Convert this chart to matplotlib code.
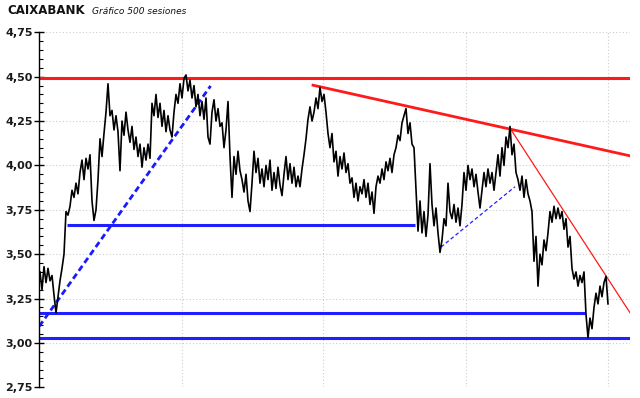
import matplotlib
matplotlib.use("Agg")
import matplotlib.pyplot as plt
import numpy as np
from matplotlib.ticker import FixedLocator, MultipleLocator, FuncFormatter

# ---- data: closing prices (one value per step along the 500-session window) ----
prices = [
    3.40, 3.30, 3.43, 3.34, 3.42, 3.35, 3.38, 3.27, 3.17,
    3.26, 3.35, 3.42, 3.50, 3.74, 3.72, 3.77,
    3.86, 3.82, 3.90, 3.84, 3.96, 4.03, 3.92, 4.04, 3.98, 4.06, 3.80, 3.69, 3.75, 3.92,
    4.15, 4.05, 4.18, 4.30, 4.46, 4.28, 4.31, 4.20, 4.28, 4.19, 3.97, 4.25, 4.17, 4.30, 4.20,
    4.13, 4.22, 4.09, 4.16, 4.05, 4.12, 3.99, 4.10, 4.03, 4.12,
    4.04, 4.35, 4.28, 4.40, 4.27, 4.35, 4.22, 4.31, 4.19, 4.28, 4.20, 4.16,
    4.30, 4.40, 4.35, 4.46, 4.38, 4.49, 4.51, 4.42, 4.48, 4.38,
    4.45, 4.33, 4.40, 4.28, 4.36, 4.26, 4.38, 4.16, 4.12, 4.30, 4.37, 4.25, 4.32, 4.22,
    4.24, 4.10, 4.20, 4.36, 4.05, 3.82, 4.05, 3.95, 4.08, 3.97,
    3.92, 3.85, 3.95, 3.80, 3.74, 3.90, 4.08, 3.96, 4.04, 3.90, 3.98, 3.88, 4.00,
    3.92, 4.03, 3.86, 3.96, 3.87, 3.99, 3.89, 3.83, 3.95, 4.05, 3.92, 4.01, 3.90, 3.99, 3.88, 3.94, 3.88,
    3.98, 4.06, 4.15, 4.26, 4.33, 4.25, 4.30, 4.38, 4.32, 4.44, 4.36, 4.40, 4.30, 4.18, 4.10,
    4.18, 4.02, 4.08, 3.94, 4.05, 3.98, 4.07,
    3.96, 4.01, 3.90, 3.93, 3.82, 3.90, 3.80, 3.88,
    3.84, 3.92, 3.82, 3.90, 3.78, 3.85, 3.73, 3.88,
    3.94, 3.90, 3.98, 3.92, 4.02, 3.97, 4.04, 3.96, 4.06,
    4.10, 4.17, 4.14, 4.24, 4.28, 4.32, 4.18, 4.24, 4.12, 4.10,
    3.86, 3.63, 3.80, 3.62, 3.74, 3.60, 3.72, 4.01, 3.78, 3.66, 3.76, 3.62, 3.51,
    3.58, 3.70, 3.66, 3.90, 3.74, 3.70, 3.78, 3.68, 3.76, 3.66,
    3.78, 3.96, 3.86, 4.00, 3.92, 3.98, 3.88, 3.95, 3.85, 3.76,
    3.86, 3.96, 3.88, 3.98, 3.90, 3.96, 3.86,
    3.96, 4.06, 3.94, 4.10, 4.00, 4.16, 4.10, 4.22, 4.06, 4.12, 3.96,
    3.92, 3.86, 3.94, 3.82, 3.92, 3.84, 3.80, 3.74, 3.46, 3.60, 3.32, 3.50,
    3.44, 3.58, 3.52, 3.62, 3.74, 3.68, 3.77, 3.70, 3.76, 3.70, 3.74, 3.64, 3.70, 3.54, 3.60,
    3.42, 3.36, 3.40, 3.32, 3.38, 3.34, 3.40, 3.16, 3.03, 3.14, 3.08, 3.20, 3.28, 3.22, 3.32, 3.26, 3.34, 3.375,
    3.22,
]

y_ticks = [2.75, 3.00, 3.25, 3.50, 3.75, 4.00, 4.25, 4.50, 4.75]
v_grid = [71, 141.5, 213, 284]

# support / resistance levels: (level, x_start, x_end) ; None = full width
red_levels = [(4.491, None, None)]
blue_levels = [(3.667, 13.5, 187.5), (3.171, -0.5, 272.5), (3.026, None, None)]

# trend lines: ((x0, y0), (x1, y1))
blue_trend_thick = ((-0.35, 3.094), (85.3, 4.448))
blue_trend_thin = ((200.5, 3.54), (237.5, 3.88))
red_trend_thick = ((136.5, 4.452), (295.0, 4.054))
red_trend_thin = ((235.0, 4.21), (295.0, 3.17))

X_MIN, X_MAX = -0.5, 295.0

fig = plt.figure(figsize=(6.4, 3.98), dpi=100)
ax = fig.add_axes([39 / 640, 1 - 387.3 / 398, (630 - 39) / 640, (387.3 - 32.3) / 398])

x = np.arange(len(prices))

ax.set_xlim(X_MIN, X_MAX)
ax.set_ylim(2.75, 4.75)

# grid
for yv in y_ticks:
    ax.axhline(yv, color="#cccccc", lw=0.8, ls=(0, (1, 2)), zorder=0)
for xv in v_grid:
    ax.axvline(xv, color="#cccccc", lw=0.8, ls=(0, (1, 2)), zorder=0)

# levels
for lvl, x0, x1 in red_levels:
    x0 = X_MIN if x0 is None else x0
    x1 = X_MAX if x1 is None else x1
    ax.plot([x0, x1], [lvl, lvl], color="#ff1a1a", lw=2.2, solid_capstyle="butt", zorder=2)
for lvl, x0, x1 in blue_levels:
    x0 = X_MIN if x0 is None else x0
    x1 = X_MAX if x1 is None else x1
    ax.plot([x0, x1], [lvl, lvl], color="#2020ff", lw=2.2, solid_capstyle="butt", zorder=2)

# trend lines
(a, b) = blue_trend_thick
ax.plot([a[0], b[0]], [a[1], b[1]], color="#1a1aff", lw=2.0, ls=(0, (2.2, 1.3)), zorder=2)
(a, b) = blue_trend_thin
ax.plot([a[0], b[0]], [a[1], b[1]], color="#2020ff", lw=0.9, ls=(0, (3, 2)), zorder=2)
(a, b) = red_trend_thick
ax.plot([a[0], b[0]], [a[1], b[1]], color="#ff1a1a", lw=2.0, zorder=2)
(a, b) = red_trend_thin
ax.plot([a[0], b[0]], [a[1], b[1]], color="#ff1a1a", lw=0.9, zorder=2)

# price
ax.plot(x, prices, color="black", lw=1.2, zorder=3)

# axes styling
for s in ["top", "right", "bottom"]:
    ax.spines[s].set_visible(False)
ax.spines["left"].set_color("black")
ax.spines["left"].set_linewidth(1.0)
ax.set_xticks([])
ax.yaxis.set_major_locator(FixedLocator(y_ticks))
ax.yaxis.set_minor_locator(MultipleLocator(0.05))
ax.yaxis.set_major_formatter(FuncFormatter(lambda v, p: f"{v:.2f}".replace(".", ",")))
ax.tick_params(axis="y", which="major", direction="inout", length=7, width=1.0,
               labelsize=8, pad=1, labelcolor="#1a1a1a")
ax.tick_params(axis="y", which="minor", direction="in", length=3, width=0.8)
for lab in ax.get_yticklabels():
    lab.set_fontweight("bold")

fig.text(7 / 640, 1 - 11 / 398, "CAIXABANK", fontsize=8.5, fontweight="bold",
         va="center", ha="left", color="#111111")
fig.text(92 / 640, 1 - 11 / 398, "Gráfico 500 sesiones", fontsize=6.5, style="italic",
         va="center", ha="left", color="#111111")

fig.savefig("out.png", dpi=100)
